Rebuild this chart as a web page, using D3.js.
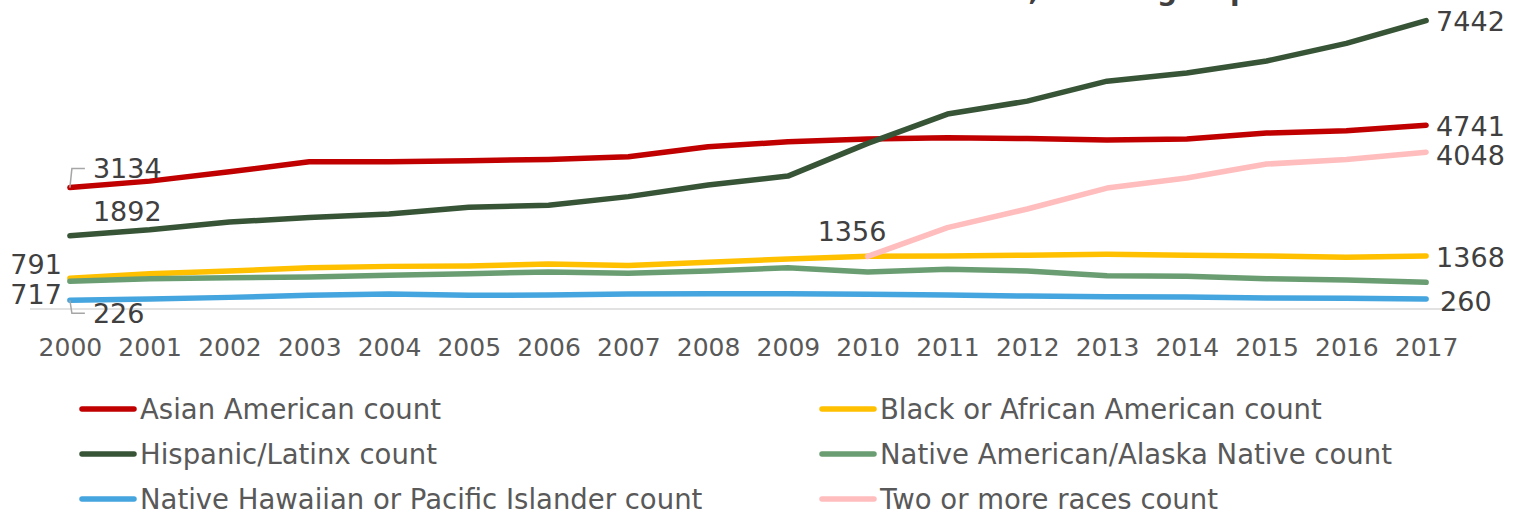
<!DOCTYPE html>
<html>
<head>
<meta charset="utf-8">
<script src="https://cdn.jsdelivr.net/npm/d3@7"></script>
<style>
  body { margin: 0; background: #fff; }
  svg { display: block; font-family: "Century Gothic", "DejaVu Sans", sans-serif; }
</style>
</head>
<body>
<div id="chart"></div>
<script>
// chart values
const years = [2000, 2001, 2002, 2003, 2004, 2005, 2006, 2007, 2008, 2009,
               2010, 2011, 2012, 2013, 2014, 2015, 2016, 2017];
const asianCounts = [3134, 3300, 3540, 3800, 3800, 3825, 3860, 3930, 4185, 4315,
                     4385, 4420, 4400, 4360, 4385, 4540, 4600, 4741];
const blackCounts = [791, 910, 980, 1065, 1100, 1110, 1160, 1120, 1205, 1290,
                     1360, 1367, 1390, 1410, 1385, 1367, 1335, 1368];
const hispanicCounts = [1892, 2045, 2245, 2360, 2450, 2625, 2675, 2900, 3200, 3430,
                        4275, 5030, 5365, 5880, 6090, 6400, 6855, 7442];
const nativeAmCounts = [717, 782, 808, 826, 869, 911, 955, 920, 980, 1066,
                        955, 1024, 980, 860, 843, 783, 748, 689];
const hawaiianCounts = [226, 258, 300, 353, 387, 353, 361, 387, 396, 396,
                        379, 361, 335, 318, 310, 284, 275, 260];
const twoOrMoreCounts = [null, null, null, null, null, null, null, null, null, null,
                         1356, 2100, 2580, 3120, 3380, 3740, 3860, 4048];

const seriesNames = ['Asian American count', 'Black or African American count',
    'Hispanic/Latinx count', 'Native American/Alaska Native count',
    'Native Hawaiian or Pacific Islander count', 'Two or more races count'];
const seriesValues = [asianCounts, blackCounts, hispanicCounts, nativeAmCounts,
    hawaiianCounts, twoOrMoreCounts];
const seriesColors = ['#c00000', '#ffc000', '#375437', '#6a9e72', '#45a5de', '#ffbdbd'];

const titleText = 'Student counts over time, ethnic group';

// where the data labels sit (series index, year, offsets)
const labelSpots = [
    {s: 0, year: 2000, dx: 23, dy: -19, anchor: 'start', leader: 'up'},
    {s: 2, year: 2000, dx: 23, dy: -24, anchor: 'start'},
    {s: 1, year: 2000, dx: -8, dy: -14, anchor: 'end'},
    {s: 3, year: 2000, dx: -8, dy: 13, anchor: 'end'},
    {s: 4, year: 2000, dx: 23, dy: 13, anchor: 'start', leader: 'down'},
    {s: 5, year: 2010, dx: -50, dy: -25, anchor: 'start'},
    {s: 2, year: 2017, dx: 10, dy: 1, anchor: 'start'},
    {s: 0, year: 2017, dx: 10, dy: 1, anchor: 'start'},
    {s: 5, year: 2017, dx: 10, dy: 3, anchor: 'start'},
    {s: 1, year: 2017, dx: 10, dy: 1, anchor: 'start'},
    {s: 4, year: 2017, dx: 14, dy: 2, anchor: 'start'}
];

const width = 1520, height = 516;

const svg = d3.select('#chart')
    .append('svg')
    .attr('width', width)
    .attr('height', height);

// x: categories between tick marks, y: linear count
const xScale = d3.scalePoint().domain(years).range([30, 1466]).padding(0.5);
const yScale = d3.scaleLinear().domain([0, 8000]).range([309, -1]);

// cut-off title
svg.append('text')
    .attr('x', 1250)
    .attr('y', 0)
    .attr('text-anchor', 'end')
    .style('font-size', '28px')
    .style('font-weight', 'bold')
    .attr('fill', '#404040')
    .text(titleText);

// baseline
svg.append('line')
    .attr('x1', 30).attr('x2', 1466)
    .attr('y1', yScale(0)).attr('y2', yScale(0))
    .attr('stroke', '#d9d9d9')
    .attr('stroke-width', 1.5);

// x axis
const xAxis = d3.axisBottom(xScale).tickSize(0).tickPadding(0);
const xAxisG = svg.append('g')
    .attr('class', 'xAxis')
    .attr('transform', 'translate(0,' + 338 + ')')
    .call(xAxis);
xAxisG.select('.domain').remove();
xAxisG.selectAll('text')
    .attr('dy', '0.72em')
    .style('font-family', '"Century Gothic", "DejaVu Sans", sans-serif')
    .style('font-size', '25px')
    .attr('fill', '#595959');

// lines
const line = d3.line()
    .defined(d => d.v !== null)
    .x(d => xScale(d.year))
    .y(d => yScale(d.v));

seriesValues.forEach((vals, i) => {
    svg.append('path')
        .datum(years.map((y, j) => ({year: y, v: vals[j]})))
        .attr('fill', 'none')
        .attr('stroke', seriesColors[i])
        .attr('stroke-width', 5.5)
        .attr('stroke-linecap', 'round')
        .attr('stroke-linejoin', 'round')
        .attr('d', line);
});

// data labels
labelSpots.forEach(l => {
    const v = seriesValues[l.s][years.indexOf(l.year)];
    const px = xScale(l.year), py = yScale(v);
    if (l.leader) {
        const ty = py + l.dy;
        svg.append('polyline')
            .attr('points', [[px, py], [px + 2, ty], [px + 15, ty]].map(p => p.join(',')).join(' '))
            .attr('fill', 'none')
            .attr('stroke', '#a6a6a6')
            .attr('stroke-width', 1.5);
    }
    svg.append('text')
        .attr('x', px + l.dx)
        .attr('y', py + l.dy)
        .attr('dy', '0.36em')
        .attr('text-anchor', l.anchor)
        .style('font-size', '27px')
        .attr('fill', '#404040')
        .text(v);
});

// legend, two columns
const legend = svg.append('g').attr('class', 'legend');
seriesNames.forEach((name, i) => {
    const col = i % 2, row = Math.floor(i / 2);
    const g = legend.append('g')
        .attr('transform', 'translate(' + (col === 0 ? 82 : 822) + ',' + (409 + row * 45) + ')');
    g.append('line')
        .attr('x1', 0).attr('x2', 52)
        .attr('stroke', seriesColors[i])
        .attr('stroke-width', 5.5)
        .attr('stroke-linecap', 'round');
    g.append('text')
        .attr('x', 58)
        .attr('dy', '0.36em')
        .style('font-size', '27.5px')
        .attr('fill', '#595959')
        .text(name);
});
</script>
</body>
</html>
